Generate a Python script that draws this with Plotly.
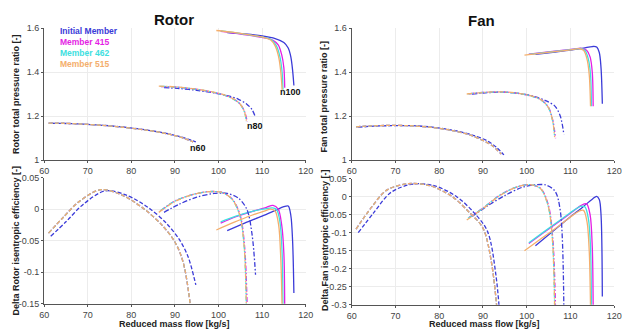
import plotly.graph_objects as go

MEMBERS = ["Initial Member", "Member 415", "Member 462", "Member 515"]
COLORS = ["#3b3bd8", "#e41ee4", "#3ee0e0", "#f4ae6c"]

# ---- speed line n100 (solid) ----
N100_MASS = {
    "Initial Member": [102.0, 106.0, 110.0, 113.0, 115.0, 116.0, 116.6, 117.0, 117.3],
    "Member 415": [100.5, 104.0, 108.0, 111.0, 112.5, 113.7, 114.5, 115.0, 115.2],
    "Member 462": [100.5, 104.0, 108.0, 111.0, 112.3, 113.3, 114.1, 114.6, 114.8],
    "Member 515": [99.5, 103.5, 107.5, 110.5, 112.0, 113.0, 113.8, 114.3, 114.6],
}
N100_ROTOR_PR = {
    "Initial Member": [1.580, 1.574, 1.565, 1.553, 1.535, 1.51, 1.47, 1.41, 1.34],
    "Member 415": [1.586, 1.577, 1.565, 1.555, 1.545, 1.525, 1.48, 1.42, 1.33],
    "Member 462": [1.588, 1.579, 1.567, 1.556, 1.546, 1.52, 1.47, 1.40, 1.32],
    "Member 515": [1.590, 1.581, 1.569, 1.558, 1.547, 1.52, 1.47, 1.40, 1.32],
}
N100_FAN_PR = {
    "Initial Member": [1.481, 1.491, 1.501, 1.510, 1.517, 1.515, 1.49, 1.42, 1.257],
    "Member 415": [1.482, 1.490, 1.499, 1.506, 1.509, 1.50, 1.47, 1.40, 1.245],
    "Member 462": [1.481, 1.489, 1.498, 1.505, 1.508, 1.50, 1.46, 1.39, 1.245],
    "Member 515": [1.478, 1.487, 1.496, 1.503, 1.507, 1.50, 1.46, 1.39, 1.245],
}
N100_ROTOR_EFF = {
    "Initial Member": [-0.034, -0.022, -0.011, -0.002, 0.004, 0.005, -0.010, -0.050, -0.133],
    "Member 415": [-0.022, -0.012, -0.003, 0.003, 0.006, 0.000, -0.025, -0.070, -0.160],
    "Member 462": [-0.020, -0.011, -0.003, 0.001, 0.002, 0.000, -0.020, -0.070, -0.160],
    "Member 515": [-0.033, -0.021, -0.010, -0.003, 0.000, -0.003, -0.025, -0.080, -0.160],
}
N100_FAN_EFF = {
    "Initial Member": [-0.136, -0.096, -0.056, -0.027, -0.007, 0.001, -0.008, -0.050, -0.277],
    "Member 415": [-0.130, -0.099, -0.064, -0.037, -0.024, -0.020, -0.050, -0.140, -0.310],
    "Member 462": [-0.128, -0.097, -0.062, -0.036, -0.027, -0.028, -0.060, -0.140, -0.310],
    "Member 515": [-0.150, -0.115, -0.080, -0.052, -0.040, -0.038, -0.070, -0.150, -0.310],
}

# ---- speed line n80 (dash-dot) ----
N80_MASS = {
    "Initial Member": [87.5, 91.0, 95.0, 99.0, 102.0, 104.5, 106.5, 107.7, 108.5],
    "Member 415": [86.8, 90.0, 94.0, 98.0, 101.0, 103.3, 105.0, 106.0, 106.6],
    "Member 462": [86.6, 90.0, 94.0, 98.0, 101.0, 103.2, 104.9, 105.9, 106.4],
    "Member 515": [86.3, 90.0, 94.0, 98.0, 101.0, 103.2, 104.9, 105.9, 106.4],
}
N80_ROTOR_PR = {
    "Initial Member": [1.330, 1.326, 1.318, 1.306, 1.294, 1.278, 1.255, 1.230, 1.195],
    "Member 415": [1.335, 1.333, 1.325, 1.312, 1.298, 1.280, 1.255, 1.220, 1.175],
    "Member 462": [1.336, 1.333, 1.325, 1.312, 1.298, 1.280, 1.256, 1.222, 1.178],
    "Member 515": [1.337, 1.334, 1.326, 1.313, 1.299, 1.281, 1.257, 1.224, 1.180],
}
N80_FAN_PR = {
    "Initial Member": [1.301, 1.307, 1.309, 1.302, 1.288, 1.270, 1.245, 1.200, 1.118],
    "Member 415": [1.302, 1.308, 1.310, 1.304, 1.292, 1.275, 1.240, 1.180, 1.100],
    "Member 462": [1.302, 1.308, 1.310, 1.304, 1.292, 1.275, 1.241, 1.182, 1.105],
    "Member 515": [1.301, 1.308, 1.311, 1.305, 1.293, 1.276, 1.242, 1.184, 1.105],
}
N80_ROTOR_EFF = {
    "Initial Member": [-0.005, 0.008, 0.019, 0.025, 0.025, 0.018, 0.000, -0.040, -0.104],
    "Member 415": [-0.002, 0.013, 0.023, 0.028, 0.026, 0.015, -0.010, -0.060, -0.160],
    "Member 462": [-0.003, 0.013, 0.023, 0.028, 0.026, 0.015, -0.010, -0.060, -0.160],
    "Member 515": [-0.005, 0.012, 0.023, 0.028, 0.026, 0.015, -0.010, -0.060, -0.160],
}
N80_FAN_EFF = {
    "Initial Member": [-0.055, -0.026, 0.003, 0.026, 0.033, 0.032, 0.015, -0.040, -0.310],
    "Member 415": [-0.058, -0.032, 0.005, 0.028, 0.033, 0.022, -0.025, -0.120, -0.310],
    "Member 462": [-0.060, -0.032, 0.005, 0.028, 0.033, 0.022, -0.025, -0.120, -0.310],
    "Member 515": [-0.065, -0.033, 0.004, 0.028, 0.033, 0.022, -0.025, -0.120, -0.310],
}

# ---- speed line n60 (dashed) ----
N60_MASS = {
    "Initial Member": [61.5, 65.0, 69.0, 74.0, 79.0, 84.0, 88.0, 91.0, 93.0, 94.8],
    "Member 415": [61.0, 64.5, 68.0, 73.0, 78.0, 83.0, 87.0, 90.0, 92.0, 94.2],
    "Member 462": [61.0, 64.5, 68.0, 73.0, 78.0, 83.0, 87.0, 90.0, 92.0, 94.2],
    "Member 515": [61.0, 64.5, 68.0, 73.0, 78.0, 83.0, 87.0, 90.0, 92.0, 94.2],
}
N60_ROTOR_PR = {
    "Initial Member": [1.168, 1.167, 1.164, 1.158, 1.149, 1.136, 1.122, 1.108, 1.096, 1.083],
    "Member 415": [1.169, 1.168, 1.165, 1.159, 1.150, 1.138, 1.125, 1.112, 1.100, 1.083],
    "Member 462": [1.169, 1.168, 1.165, 1.159, 1.150, 1.138, 1.125, 1.112, 1.100, 1.083],
    "Member 515": [1.169, 1.168, 1.165, 1.159, 1.150, 1.138, 1.125, 1.112, 1.100, 1.083],
}
N60_FAN_PR = {
    "Initial Member": [1.150, 1.155, 1.157, 1.157, 1.149, 1.133, 1.112, 1.088, 1.060, 1.024],
    "Member 415": [1.152, 1.156, 1.158, 1.157, 1.150, 1.135, 1.115, 1.090, 1.068, 1.028],
    "Member 462": [1.152, 1.156, 1.158, 1.157, 1.150, 1.135, 1.115, 1.090, 1.068, 1.028],
    "Member 515": [1.152, 1.156, 1.158, 1.157, 1.150, 1.135, 1.115, 1.090, 1.068, 1.028],
}
N60_ROTOR_EFF = {
    "Initial Member": [-0.043, -0.020, 0.008, 0.029, 0.022, 0.002, -0.022, -0.048, -0.075, -0.120],
    "Member 415": [-0.038, -0.012, 0.012, 0.031, 0.022, 0.000, -0.025, -0.052, -0.087, -0.190],
    "Member 462": [-0.038, -0.012, 0.012, 0.031, 0.022, 0.000, -0.025, -0.052, -0.087, -0.190],
    "Member 515": [-0.038, -0.012, 0.012, 0.031, 0.022, 0.000, -0.025, -0.052, -0.087, -0.190],
}
N60_FAN_EFF = {
    "Initial Member": [-0.100, -0.045, 0.012, 0.035, 0.030, 0.000, -0.045, -0.095, -0.220, -0.500],
    "Member 415": [-0.090, -0.030, 0.018, 0.036, 0.030, 0.000, -0.045, -0.087, -0.186, -0.450],
    "Member 462": [-0.090, -0.030, 0.018, 0.036, 0.030, 0.000, -0.045, -0.087, -0.186, -0.450],
    "Member 515": [-0.090, -0.030, 0.018, 0.036, 0.030, 0.000, -0.045, -0.087, -0.186, -0.450],
}

X_TICKS = [60, 70, 80, 90, 100, 110, 120]
PR_TICKS = [1.0, 1.2, 1.4, 1.6]
PR_TICK_TEXT = ["1", "1.2", "1.4", "1.6"]
ROTOR_EFF_TICKS = [-0.15, -0.1, -0.05, 0.0, 0.05]
ROTOR_EFF_TICK_TEXT = ["-0.15", "-0.1", "-0.05", "0", "0.05"]
FAN_EFF_TICKS = [-0.3, -0.25, -0.2, -0.15, -0.1, -0.05, 0.0, 0.05]
FAN_EFF_TICK_TEXT = ["-0.3", "-0.25", "-0.2", "-0.15", "-0.1", "-0.05", "0", "0.05"]

SPEED_LABELS = ["n100", "n80", "n60"]
SPEED_LABEL_X = [116.6, 108.3, 95.3]
SPEED_LABEL_Y = [1.31, 1.155, 1.057]

FONT = "Liberation Sans, Arial, sans-serif"

speeds = [
    (N100_MASS, N100_ROTOR_PR, N100_FAN_PR, N100_ROTOR_EFF, N100_FAN_EFF, "solid"),
    (N80_MASS, N80_ROTOR_PR, N80_FAN_PR, N80_ROTOR_EFF, N80_FAN_EFF, "5px,2px,1.5px,2px"),
    (N60_MASS, N60_ROTOR_PR, N60_FAN_PR, N60_ROTOR_EFF, N60_FAN_EFF, "4px,2px"),
]

fig = go.Figure()
axes = [("x", "y"), ("x2", "y2"), ("x3", "y3"), ("x4", "y4")]
for mass, rpr, fpr, reff, feff, dash in speeds:
    for panel, series in enumerate([rpr, fpr, reff, feff]):
        xa, ya = axes[panel]
        for name, color in zip(MEMBERS, COLORS):
            fig.add_trace(go.Scatter(
                x=mass[name], y=series[name], mode="lines",
                line=dict(color=color, width=1.3, dash=dash, shape="spline", smoothing=0.9),
                xaxis=xa, yaxis=ya, showlegend=False, name=name,
            ))

grid = "#ececec"
axis_common = dict(
    showline=True, linecolor="#555555", linewidth=1, mirror=False,
    showgrid=True, gridcolor=grid, gridwidth=1, zeroline=False,
    ticks="outside", ticklen=2, tickcolor="#555555",
    tickfont=dict(family=FONT, size=9, color="#444444"),
)
x_common = dict(axis_common, range=[60, 120], tickvals=X_TICKS)

left_dom = [40 / 629, 307 / 629]
right_dom = [354 / 629, 622 / 629]
top_dom = [1 - 160 / 334, 1 - 24 / 334]
bl_dom = [1 - 308 / 334, 1 - 178 / 334]
br_dom = [1 - 309 / 334, 1 - 179 / 334]

fig.update_layout(
    width=629, height=334,
    margin=dict(l=0, r=0, t=0, b=0),
    paper_bgcolor="white", plot_bgcolor="white",
    xaxis=dict(x_common, domain=left_dom, anchor="y"),
    yaxis=dict(axis_common, domain=top_dom, anchor="x", range=[1, 1.6],
               tickvals=PR_TICKS, ticktext=PR_TICK_TEXT),
    xaxis2=dict(x_common, domain=right_dom, anchor="y2"),
    yaxis2=dict(axis_common, domain=top_dom, anchor="x2", range=[1, 1.6],
                tickvals=PR_TICKS, ticktext=PR_TICK_TEXT),
    xaxis3=dict(x_common, domain=left_dom, anchor="y3"),
    yaxis3=dict(axis_common, domain=bl_dom, anchor="x3", range=[-0.15, 0.05],
                tickvals=ROTOR_EFF_TICKS, ticktext=ROTOR_EFF_TICK_TEXT),
    xaxis4=dict(x_common, domain=right_dom, anchor="y4"),
    yaxis4=dict(axis_common, domain=br_dom, anchor="x4", range=[-0.3, 0.05],
                tickvals=FAN_EFF_TICKS, ticktext=FAN_EFF_TICK_TEXT),
)

ann = []
centered = dict(xref="paper", yref="paper", xanchor="center", yanchor="middle", showarrow=False)
# panel titles
ann.append(dict(centered, text="<b>Rotor</b>", x=173 / 629, y=1 - 15 / 334,
                font=dict(family=FONT, size=15, color="#111111")))
ann.append(dict(centered, text="<b>Fan</b>", x=487 / 629, y=1 - 16 / 334,
                font=dict(family=FONT, size=15, color="#111111")))
# axis titles
title_font = dict(family=FONT, size=9, color="#222222")
for text, xp, yp in [
    ("Rotor total pressure ratio [-]", 11, 92),
    ("Fan total pressure ratio [-]", 326, 94),
    ("Delta Rotor isentropic efficiency [-]", 11, 243),
    ("Delta Fan isentropic efficiency [-]", 326, 242),
]:
    ann.append(dict(centered, text=f"<b>{text}</b>", x=xp / 629, y=1 - yp / 334,
                    textangle=-90, font=title_font))
for xp in (173, 490):
    ann.append(dict(centered, text="<b>Reduced mass flow [kg/s]</b>", x=xp / 629, y=1 - 328.5 / 334,
                    font=title_font))
# speed line labels
for lab, lx, ly in zip(SPEED_LABELS, SPEED_LABEL_X, SPEED_LABEL_Y):
    ann.append(dict(text=f"<b>{lab}</b>", x=lx, y=ly, xref="x", yref="y", showarrow=False,
                    font=dict(family=FONT, size=9, color="#111111")))
# member key drawn as one block of coloured text lines
key_text = "<br>".join(
    f"<span style='color:{c}'><b>{n}</b></span>" for n, c in zip(MEMBERS, COLORS)
)
ann.append(dict(text=key_text, x=55 / 629, y=1 - 21 / 334, xref="paper", yref="paper",
                xanchor="left", yanchor="top", align="left", showarrow=False, borderpad=0,
                font=dict(family=FONT, size=8.5, color=COLORS[0])))
fig.update_layout(annotations=ann)

fig.write_html("out.html")
